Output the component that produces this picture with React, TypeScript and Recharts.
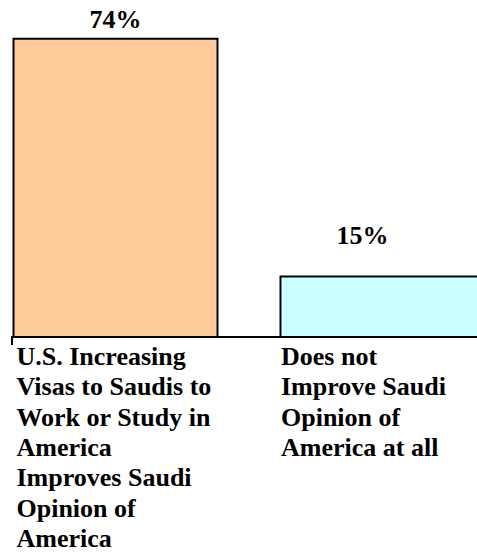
import { BarChart, Bar, XAxis, YAxis, Cell, LabelList } from "recharts";

const categories = [
  "U.S. Increasing Visas to Saudis to Work or Study in America Improves Saudi Opinion of America",
  "Does not Improve Saudi Opinion of America at all",
];
const tickLines = [
  ["U.S. Increasing", "Visas to Saudis to", "Work or Study in", "America", "Improves Saudi", "Opinion of", "America"],
  ["Does not", "Improve Saudi", "Opinion of", "America at all"],
];
const values = [74, 15];
const colors = ["#FFCC99", "#CCFFFF"];

const data = categories.map((name, i) => ({ name, value: values[i] }));

const textStyle = {
  fontFamily: '"Liberation Serif", "Times New Roman", Times, serif',
  fontWeight: 700,
  fontSize: 26,
};

const ValueLabel = (props: any) => {
  const { x, y, width, value, index } = props;
  // second label sits higher and a bit left of its bar in the original
  const dx = index === 1 ? -20 : 0;
  const dy = index === 1 ? -32.5 : -10.7;
  return (
    <text x={x + width / 2 + dx} y={y + dy} textAnchor="middle" style={textStyle} fill="#000">
      {value}%
    </text>
  );
};

const CategoryTick = ({ x, y, payload }: any) => {
  const lines = tickLines[payload.index] || [String(payload.value)];
  const left = x - (payload.index === 0 ? 98.5 : 101);
  return (
    <g>
      {payload.index === 0 && (
        <line x1={x - 103} x2={x - 103} y1={y} y2={y + 8} stroke="#000" strokeWidth={2} />
      )}
      <text x={left} y={y + 28} style={textStyle} fill="#000">
        {lines.map((l, i) => (
          <tspan key={i} x={left} dy={i === 0 ? 0 : 30.3}>
            {l}
          </tspan>
        ))}
      </text>
    </g>
  );
};

export default function App() {
  return (
    <div style={{ position: "absolute", left: 0, top: 0, width: 477, height: 552, overflow: "hidden", background: "#fff" }}>
      <BarChart
        width={477}
        height={552}
        data={data}
        margin={{ top: 14.5, right: 0, bottom: 0, left: 11 }}
      >
        <XAxis
          dataKey="name"
          height={215}
          padding={{ left: -29.5, right: -38.5 }}
          axisLine={{ stroke: "#000", strokeWidth: 2 }}
          tickLine={false}
          tickSize={0}
          tickMargin={0}
          interval={0}
          tick={<CategoryTick />}
        />
        <YAxis hide domain={[0, 80]} />
        <Bar dataKey="value" barSize={204} stroke="#000" strokeWidth={2} isAnimationActive={false}>
          {data.map((_, i) => (
            <Cell key={i} fill={colors[i]} />
          ))}
          <LabelList dataKey="value" content={<ValueLabel />} />
        </Bar>
      </BarChart>
    </div>
  );
}
